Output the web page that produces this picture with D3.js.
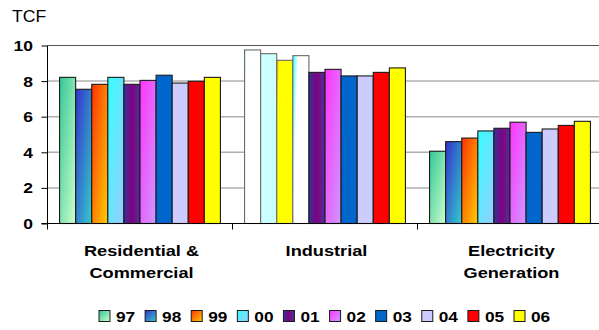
<!DOCTYPE html>
<html><head><meta charset="utf-8">
<script src="https://cdn.jsdelivr.net/npm/d3@7"></script>
<style>
html,body{margin:0;padding:0;background:#fff;}
svg{display:block;font-family:"Liberation Sans",Arial,sans-serif;}
</style></head>
<body>
<svg id="c" width="599" height="330"></svg>
<script>
const categories = ["Residential &\nCommercial", "Industrial", "Electricity\nGeneration"];
const years = ["97","98","99","00","01","02","03","04","05","06"];
const resCom      = [8.21, 7.54, 7.82, 8.21, 7.82, 8.04, 8.33, 7.89, 7.99, 8.21];
const industrial  = [9.75, 9.54, 9.17, 9.43, 8.49, 8.66, 8.29, 8.29, 8.49, 8.74];
const electricity = [4.06, 4.60, 4.80, 5.20, 5.35, 5.69, 5.12, 5.31, 5.51, 5.74];
const yTicks = [0, 2, 4, 6, 8, 10];
const seriesValues = [resCom, industrial, electricity];

// styles
const fills = {
  "97": {type:"diag", stops:[["0%","#33c795"],["100%","#ccffcc"]]},
  "98": {type:"diag", stops:[["0%","#3333cc"],["100%","#33cccc"]]},
  "99": {type:"diag", stops:[["0%","#ff3300"],["100%","#ffcc00"]]},
  "00": {type:"diag", stops:[["0%","#33ffff"],["100%","#99ccff"]]},
  "01": {type:"horiz", stops:[["0%","#333399"],["50%","#800080"],["100%","#4d3399"]]},
  "02": {type:"diag", stops:[["0%","#ff33ff"],["100%","#cc99ff"]]},
  "03": {type:"solid", color:"#0066cc"},
  "04": {type:"solid", color:"#ccccff"},
  "05": {type:"solid", color:"#ff0000"},
  "06": {type:"solid", color:"#ffff00"}
};
// point-level overrides seen in the Industrial group
const overrides = {
  "1-97": {type:"diag2", stops:[["0%","#99ffff"],["12%","#ffffff"],["100%","#ffffff"]]},
  "1-98": {type:"solid", color:"#ccffff"},
  "1-99": {type:"diag2", stops:[["0%","#ff9900"],["15%","#ffff00"],["100%","#ffff00"]]},
  "1-00": {type:"diag2", stops:[["0%","#33ffff"],["30%","#ffffff"],["100%","#ffffff"]]}
};

const svg = d3.select("#c");
const defs = svg.append("defs");
function makeFill(id, f){
  if (f.type === "solid") return f.color;
  const g = defs.append("linearGradient").attr("id", id);
  if (f.type === "horiz") g.attr("x1","0").attr("y1","0").attr("x2","1").attr("y2","0");
  else if (f.type === "diag2") g.attr("x1","0").attr("y1","0").attr("x2","1").attr("y2","0.35");
  else g.attr("x1","0").attr("y1","0").attr("x2","1").attr("y2","1");
  f.stops.forEach(s => g.append("stop").attr("offset", s[0]).attr("stop-color", s[1]));
  return `url(#${id})`;
}
const fillUrl = {};
years.forEach(y => fillUrl[y] = makeFill("g"+y, fills[y]));
const overUrl = {};
Object.keys(overrides).forEach(k => overUrl[k] = makeFill("o"+k, overrides[k]));

const x0 = d3.scaleBand().domain(categories).range([47.5, 602.5]).paddingInner(0).paddingOuter(0);
const x1 = d3.scaleBand().domain(years).range([0, x0.bandwidth()]).paddingInner(0).paddingOuter(0.75);
const y = d3.scaleLinear().domain([0, 10]).range([223.5, 45.5]);

// gridlines
svg.append("g").selectAll("line").data(yTicks.filter(t => t > 0 && t < 10)).join("line")
  .attr("x1", 47.5).attr("x2", 599).attr("y1", d => y(d)).attr("y2", d => y(d))
  .attr("stroke", "#b0b0b0").attr("stroke-width", 1.5);
svg.append("line").attr("x1", 47.5).attr("x2", 599).attr("y1", y(10)).attr("y2", y(10))
  .attr("stroke", "#555").attr("stroke-width", 1.2);

// bars
const groups = svg.append("g").selectAll("g").data(categories).join("g")
  .attr("transform", d => `translate(${x0(d)},0)`);
groups.each(function(cat, ci){
  d3.select(this).selectAll("rect").data(years.map((yr, i) => ({yr, v: seriesValues[ci][i], key: ci+"-"+yr})))
    .join("rect")
    .attr("x", d => x1(d.yr)).attr("width", x1.bandwidth())
    .attr("y", d => y(d.v)).attr("height", d => y(0) - y(d.v))
    .attr("fill", d => overUrl[d.key] || fillUrl[d.yr])
    .attr("stroke", d => overUrl[d.key] ? "#6a6a6a" : "#1a1a1a").attr("stroke-width", 1.1);
});

// y axis
const yAxis = d3.axisLeft(y).tickValues(yTicks).tickSize(6).tickPadding(0).tickFormat(d3.format("d"));
const ya = svg.append("g").attr("transform", "translate(47.5,0)").call(yAxis);
ya.select(".domain").attr("stroke", "#000").attr("d", `M0,${y(10)}V${y(0)}`);
ya.selectAll(".tick line").attr("stroke", "#000");
ya.selectAll(".tick text").remove();
ya.selectAll(".tick").append("text")
  .attr("transform", "translate(-14.5,5) scale(1.25,1)")
  .attr("text-anchor", "end").attr("fill", "#000")
  .style("font-size", "14px").style("font-weight", "bold")
  .text(d => d);

// x axis
svg.append("line").attr("x1", 41.5).attr("x2", 599).attr("y1", y(0)).attr("y2", y(0))
  .attr("stroke", "#000").attr("stroke-width", 1.2);
const bounds = categories.map(c => x0(c)).concat([x0.range()[1]]);
svg.append("g").selectAll("line").data(bounds).join("line")
  .attr("x1", d => d).attr("x2", d => d).attr("y1", y(0)).attr("y2", y(0) + 6)
  .attr("stroke", "#000");

// category labels
svg.append("g").selectAll("text").data(categories).join("text")
  .attr("transform", d => `translate(${x0(d) + x0.bandwidth()/2 + 1.5},255.5) scale(1.3,1)`)
  .attr("text-anchor", "middle").style("font-size", "14px").style("font-weight", "bold")
  .each(function(d){
    const t = d3.select(this);
    d.split("\n").forEach((line, i) => t.append("tspan").attr("x", 0).attr("dy", i ? 23 : 0).text(line));
  });

// title
svg.append("text").attr("x", 12).attr("y", 22).style("font-size", "16px").attr("fill", "#000")
  .attr("transform", "translate(12,0) scale(1.1,1) translate(-12,0)")
  .text("TCF");

// legend
const lx = d3.scalePoint().domain(years).range([99, 514]);
const lg = svg.append("g").selectAll("g").data(years).join("g")
  .attr("transform", d => `translate(${lx(d)},310.5)`);
lg.append("rect").attr("width", 11).attr("height", 11)
  .attr("fill", d => fillUrl[d]).attr("stroke", "#1a1a1a").attr("stroke-width", 1);
lg.append("text").attr("transform", "translate(17,11) scale(1.15,1)")
  .style("font-size", "15px").style("font-weight", "bold").text(d => d);
</script>
</body></html>
